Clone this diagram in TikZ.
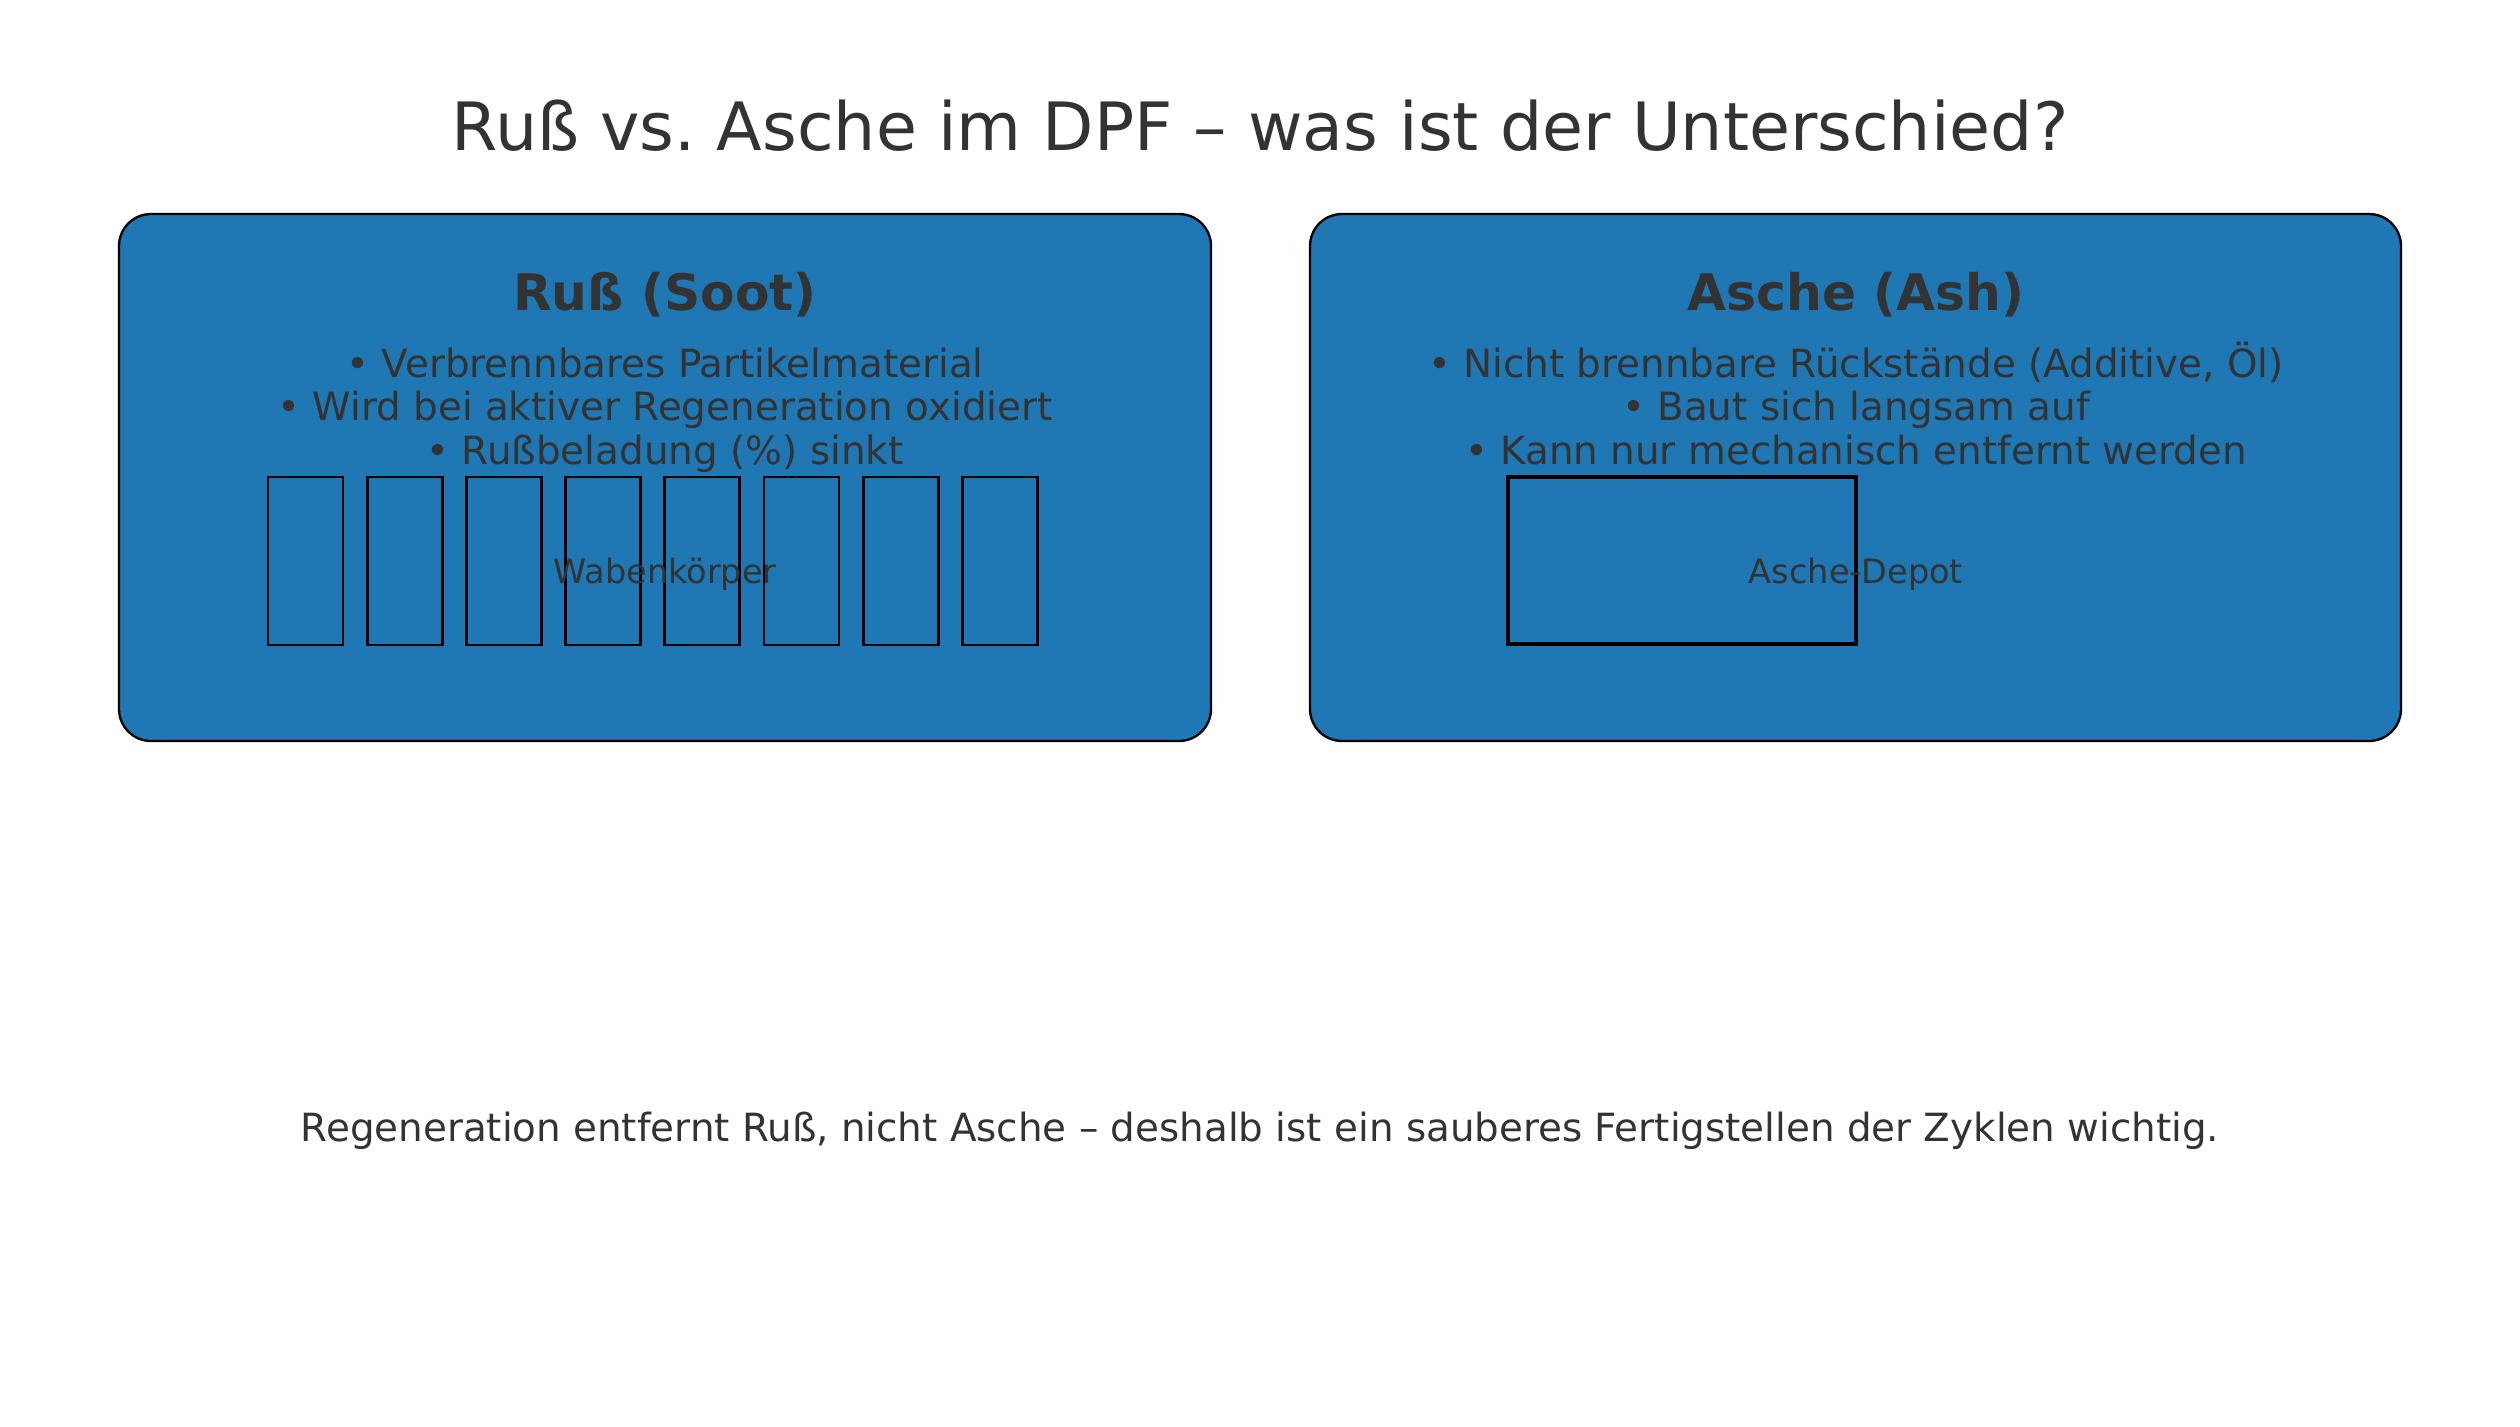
\documentclass[tikz,border=0pt]{standalone}
\usepackage{fontspec}
\setmainfont{DejaVu Sans}
\frenchspacing
\definecolor{txt}{HTML}{333333}
\definecolor{panel}{HTML}{1F77B4}
\tikzset{
  panelbox/.style={draw=black, fill=panel, line width=0.66pt, rounded corners=0.32cm},
  cellbox/.style={draw=black, line width=0.77pt},
  depotbox/.style={draw=black, line width=1.25pt},
  titletext/.style={text=txt, inner sep=0pt, anchor=base, font=\fontsize{18.95}{23}\selectfont},
  headtext/.style={text=txt, inner sep=0pt, anchor=base, font=\fontsize{14.3}{17}\selectfont\bfseries},
  bullettext/.style={text=txt, inner sep=0pt, anchor=base, font=\fontsize{11.05}{13}\selectfont},
  labeltext/.style={text=txt, inner sep=0pt, anchor=base, font=\fontsize{9.53}{11}\selectfont},
  foottext/.style={text=txt, inner sep=0pt, anchor=base, font=\fontsize{11.04}{13}\selectfont},
}
\begin{document}
\begin{tikzpicture}[x=0.01cm, y=-0.01cm]
\useasboundingbox (0,0) rectangle (2520,1426);
\fill[white] (0,0) rectangle (2520,1426);

\node[titletext] (title) at (1260,150) {Ruß vs. Asche im DPF – was ist der Unterschied?};

% left panel
\draw[panelbox] (119,214) rectangle (1211,741);
\node[headtext] (lhead) at (665,310.7) {Ruß (Soot)};
\node[bullettext] (lb1) at (665,377) {• Verbrennbares Partikelmaterial};
\node[bullettext] (lb2) at (665,420.5) {• Wird bei aktiver Regeneration oxidiert};
\node[bullettext] (lb3) at (665,464) {• Rußbeladung (\%) sinkt};
\foreach \i in {0,...,7}{
  \draw[cellbox] ({268+99.2*\i},477) rectangle ({343+99.2*\i},645);
}
\node[labeltext] (llabel) at (665,583.3) {Wabenkörper};

% right panel
\draw[panelbox] (1310,214) rectangle (2401,741);
\node[headtext] (rhead) at (1856,310.7) {Asche (Ash)};
\node[bullettext] (rb1) at (1856,377) {• Nicht brennbare Rückstände (Additive, Öl)};
\node[bullettext] (rb2) at (1856,420.5) {• Baut sich langsam auf};
\node[bullettext] (rb3) at (1856,464) {• Kann nur mechanisch entfernt werden};
\draw[depotbox] (1508,477) rectangle (1856,644);
\node[labeltext] (rlabel) at (1856,583.3) {Asche-Depot};

\node[foottext] (foot) at (1260,1141) {Regeneration entfernt Ruß, nicht Asche – deshalb ist ein sauberes Fertigstellen der Zyklen wichtig.};
\end{tikzpicture}
\end{document}
